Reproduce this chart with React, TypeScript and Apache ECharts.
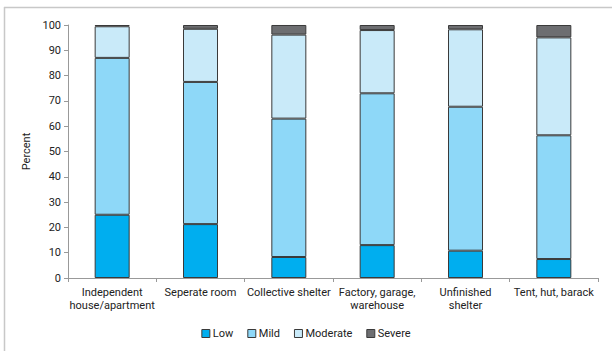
import React, { useEffect, useRef } from "react";
import * as echarts from "echarts";

const categories = [
  "Independent\nhouse/apartment",
  "Seperate room",
  "Collective shelter",
  "Factory, garage,\nwarehouse",
  "Unfinished\nshelter",
  "Tent, hut, barack",
];
const low = [25, 21.3, 8.3, 13, 10.8, 7.5];
const mild = [62, 56.2, 54.7, 60, 56.9, 48.9];
const moderate = [12.5, 21, 33.2, 25, 30.6, 38.7];
const severe = [0.5, 1.5, 3.8, 2, 1.7, 4.9];
const yTicks = { min: 0, max: 100, interval: 10 };

const FONT = "Roboto, 'Noto Sans', sans-serif";

export default function App() {
  const ref = useRef<HTMLDivElement>(null);
  useEffect(() => {
    if (!ref.current) return;
    const chart = echarts.init(ref.current, undefined, { renderer: "svg" });
    const mk = (name: string, data: number[], color: string) => ({
      name,
      type: "bar",
      stack: "s",
      data,
      barWidth: 35,
      itemStyle: { color, borderColor: "#3a3a3a", borderWidth: 1 },
      emphasis: { disabled: true },
    });
    chart.setOption({
      animation: false,
      textStyle: { fontFamily: FONT },
      graphic: [
        { type: "line", shape: { x1: 4, y1: 7.5, x2: 612, y2: 7.5 }, style: { stroke: "#c8c8c8", lineWidth: 1.5 } },
        { type: "line", shape: { x1: 4.5, y1: 7, x2: 4.5, y2: 351 }, style: { stroke: "#c8c8c8", lineWidth: 1.5 } },
      ],
      grid: { left: 68, right: 14, top: 25, bottom: 73 },
      legend: {
        bottom: 7,
        left: "center",
        itemWidth: 8,
        itemHeight: 8,
        itemGap: 14,
        icon: "rect",
        textStyle: { fontSize: 11, color: "#222", fontFamily: FONT, padding: [0, 0, 0, -2] },
        data: [
          { name: "Low", itemStyle: { borderColor: "#3a3a3a", borderWidth: 1 } },
          { name: "Mild", itemStyle: { borderColor: "#3a3a3a", borderWidth: 1 } },
          { name: "Moderate", itemStyle: { borderColor: "#3a3a3a", borderWidth: 1 } },
          { name: "Severe", itemStyle: { borderColor: "#3a3a3a", borderWidth: 1 } },
        ],
      },
      xAxis: {
        type: "category",
        data: categories,
        axisLine: { lineStyle: { color: "#999" } },
        axisTick: { show: true, length: 4, lineStyle: { color: "#999" } },
        axisLabel: { color: "#222", fontSize: 11, margin: 8, lineHeight: 13, interval: 0 },
      },
      yAxis: {
        type: "value",
        min: yTicks.min,
        max: yTicks.max,
        interval: yTicks.interval,
        name: "Percent",
        nameLocation: "middle",
        nameGap: 34,
        nameTextStyle: { color: "#222", fontSize: 11 },
        axisLine: { show: true, lineStyle: { color: "#999" } },
        axisTick: { show: true, length: 4, lineStyle: { color: "#999" } },
        splitLine: { show: false },
        axisLabel: { color: "#222", fontSize: 11, margin: 7 },
      },
      series: [
        mk("Low", low, "#00aeef"),
        mk("Mild", mild, "#8ed8f8"),
        mk("Moderate", moderate, "#c9eaf9"),
        mk("Severe", severe, "#6d6e71"),
      ],
    });
    return () => chart.dispose();
  }, []);
  return <div ref={ref} style={{ width: 612, height: 351, position: "absolute", left: 0, top: 0 }} />;
}
